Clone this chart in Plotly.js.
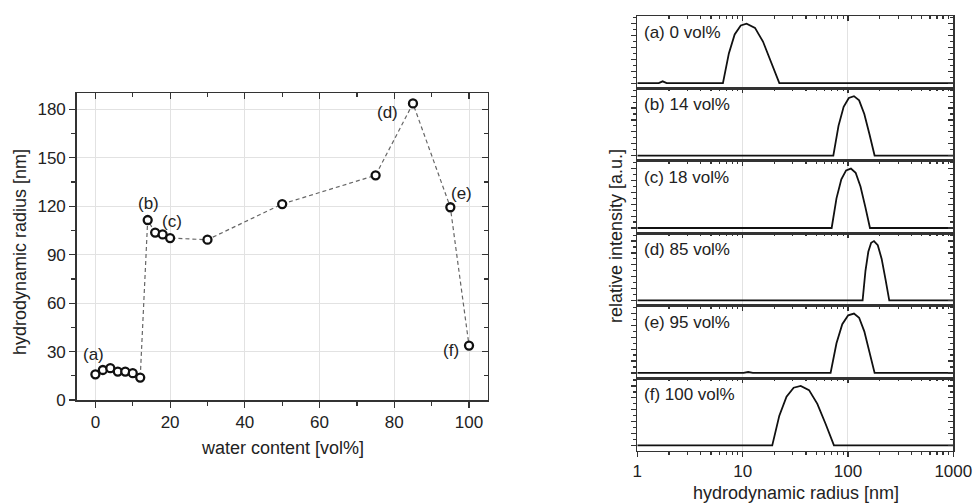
<!DOCTYPE html>
<html>
<head>
<meta charset="utf-8">
<script src="https://cdn.plot.ly/plotly-3.0.1.min.js"></script>
<style>html,body{margin:0;padding:0;background:#fff;}#chart{width:976px;height:503px;}</style>
</head>
<body>
<div id="chart"></div>
<script>
// ---- Left chart data ----
const waterContent = [0, 2, 4, 6, 8, 10, 12, 14, 16, 18, 20, 30, 50, 75, 85, 95, 100];
const hydroRadius = [15.9, 18.6, 19.7, 17.6, 17.6, 16.6, 13.9, 111.5, 103.7, 102.6, 100.3, 99.3, 121.4, 139.2, 183.7, 119.4, 33.7];
const pointLabels = ['(a)', '(b)', '(c)', '(d)', '(e)', '(f)'];
const pointLabelX = [-0.6, 14.2, 20.5, 78.1, 98.0, 95.1];
const pointLabelY = [28.3, 121.7, 110.7, 177.9, 127.9, 30.6];

// ---- Right chart data (size distributions) ----
const panelLabels = ['(a) 0 vol%', '(b) 14 vol%', '(c) 18 vol%', '(d) 85 vol%', '(e) 95 vol%', '(f) 100 vol%'];
const sizeA = [1, 1.6, 1.74, 1.9, 6.5, 7.4, 8.4, 9.6, 10.9, 13.1, 15.6, 18.7, 22.3, 1000];
const intA  = [0, 0, 0.03, 0, 0, 0.5, 0.82, 0.97, 1, 0.93, 0.7, 0.36, 0, 0];
const sizeB = [1, 72.6, 81.3, 91.0, 101.9, 114, 127.6, 142.9, 160, 179, 1000];
const intB  = [0, 0, 0.5, 0.82, 0.97, 1, 0.93, 0.7, 0.36, 0, 0];
const sizeC = [1, 70, 77.8, 86.5, 96, 106.7, 118.3, 131.5, 145.9, 161.8, 1000];
const intC  = [0, 0, 0.5, 0.82, 0.97, 1, 0.93, 0.7, 0.36, 0, 0];
const sizeD = [1, 137.7, 146.6, 156, 166, 176.6, 191.9, 208.9, 227, 246.6, 1000];
const intD  = [0, 0, 0.5, 0.82, 0.97, 1, 0.93, 0.7, 0.36, 0, 0];
const sizeE = [1, 10.2, 11.3, 12.5, 68.4, 77.8, 88.3, 100.5, 114, 127.6, 142.9, 160, 179, 1000];
const intE  = [0, 0, 0.015, 0, 0, 0.5, 0.82, 0.97, 1, 0.93, 0.7, 0.36, 0, 0];
const sizeF = [1, 19.1, 22.3, 26.1, 30.5, 35.6, 42.7, 51.2, 61.4, 73.6, 1000];
const intF  = [0, 0, 0.5, 0.82, 0.97, 1, 0.93, 0.7, 0.36, 0, 0];

const sizes = [sizeA, sizeB, sizeC, sizeD, sizeE, sizeF];
const intens = [intA, intB, intC, intD, intE, intF];

// ---- styling ----
const FONT = 'Arial, "Liberation Sans", Helvetica, sans-serif';
const TXT = '#222';
const AX = '#333';
const GRID = '#e2e2e2';
const W = 976, H = 503;
const px = v => v / W;
const py = v => (H - v) / H;

const traces = [];
const layout = {
  width: W, height: H,
  margin: {l: 0, r: 0, t: 0, b: 0},
  paper_bgcolor: '#fff', plot_bgcolor: 'rgba(0,0,0,0)',
  showlegend: false,
  font: {family: FONT, size: 17, color: TXT},
  annotations: []
};

// Left chart
const LX = [px(76.7), px(487.7)];
const LY = [py(400), py(93.3)];
traces.push({
  x: waterContent, y: hydroRadius, xaxis: 'x', yaxis: 'y',
  mode: 'lines+markers', type: 'scatter', hoverinfo: 'skip',
  line: {color: '#666', width: 1.2, dash: '4px,3px'},
  marker: {symbol: 'circle', size: 8, color: '#fff', line: {color: '#111', width: 2.3}}
});
traces.push({x: [], y: [], xaxis: 'x2', yaxis: 'y', type: 'scatter', hoverinfo: 'skip'});
traces.push({x: [], y: [], xaxis: 'x', yaxis: 'y2', type: 'scatter', hoverinfo: 'skip'});

layout.xaxis = {
  domain: LX, anchor: 'y', range: [-5, 105], dtick: 20, tick0: 0,
  ticks: 'outside', ticklen: 6, tickwidth: 1.2, tickcolor: AX,
  minor: {dtick: 10, ticks: 'outside', ticklen: 4, tickwidth: 1.2, tickcolor: AX, showgrid: false},
  showline: true, linecolor: AX, linewidth: 1.5, mirror: true,
  showgrid: true, gridcolor: GRID, gridwidth: 1, zeroline: false,
  tickfont: {size: 17, color: TXT, family: FONT}
};
layout.xaxis2 = {
  overlaying: 'x', side: 'top', anchor: 'y', range: [-5, 105], dtick: 20, tick0: 0,
  ticks: 'inside', ticklen: 6, tickwidth: 1.2, tickcolor: AX,
  minor: {dtick: 10, ticks: 'inside', ticklen: 4, tickwidth: 1.2, tickcolor: AX, showgrid: false},
  showticklabels: false, showgrid: false, zeroline: false, showline: false
};
layout.yaxis = {
  domain: LY, anchor: 'x', range: [0, 190], dtick: 30, tick0: 0,
  ticks: 'outside', ticklen: 6, tickwidth: 1.2, tickcolor: AX,
  minor: {dtick: 15, ticks: 'outside', ticklen: 4, tickwidth: 1.2, tickcolor: AX, showgrid: false},
  showline: true, linecolor: AX, linewidth: 1.5, mirror: true,
  showgrid: true, gridcolor: GRID, gridwidth: 1, zeroline: false,
  tickfont: {size: 17, color: TXT, family: FONT}
};
layout.yaxis2 = {
  overlaying: 'y', side: 'right', anchor: 'x', range: [0, 190], dtick: 30, tick0: 0,
  ticks: 'inside', ticklen: 6, tickwidth: 1.2, tickcolor: AX,
  minor: {dtick: 15, ticks: 'inside', ticklen: 4, tickwidth: 1.2, tickcolor: AX, showgrid: false},
  showticklabels: false, showgrid: false, zeroline: false, showline: false
};
pointLabels.forEach((t, i) => {
  layout.annotations.push({
    text: t, x: pointLabelX[i], y: pointLabelY[i], xref: 'x', yref: 'y',
    showarrow: false, font: {size: 17, color: TXT, family: FONT}, xanchor: 'center', yanchor: 'middle'
  });
});
layout.annotations.push({
  text: 'water content [vol%]', x: px(282), y: py(448), xref: 'paper', yref: 'paper',
  showarrow: false, font: {size: 18, color: TXT, family: FONT}, xanchor: 'center', yanchor: 'middle'
});
layout.annotations.push({
  text: 'hydrodynamic radius [nm]', x: px(20), y: py(252), xref: 'paper', yref: 'paper', textangle: -90,
  showarrow: false, font: {size: 18, color: TXT, family: FONT}, xanchor: 'center', yanchor: 'middle'
});

// Right chart: 6 stacked panels
const RX = [px(637.3), px(953.3)];
const topPx = 16, botPx = 450.7;
const hPx = (botPx - topPx) / 6;
const YR = [-0.09, 1.13];
for (let i = 0; i < 6; i++) {
  const xi = 3 + i, yi = 3 + i, yo = 9 + i;
  const xn = 'x' + xi, yn = 'y' + yi, yon = 'y' + yo;
  const pTop = topPx + i * hPx, pBot = pTop + hPx;
  traces.push({
    x: sizes[i], y: intens[i], xaxis: xn, yaxis: yn, type: 'scatter', mode: 'lines',
    hoverinfo: 'skip', line: {color: '#111', width: 1.8}
  });
  traces.push({x: [], y: [], xaxis: xn, yaxis: yon, type: 'scatter', hoverinfo: 'skip'});
  layout['xaxis' + xi] = {
    domain: RX, anchor: yn, type: 'log', range: [0, 3], dtick: 1, side: 'top',
    ticks: 'inside', ticklen: 5, tickwidth: 1.2, tickcolor: AX,
    minor: {dtick: 'D1', ticks: 'inside', ticklen: 3, tickwidth: 1.2, tickcolor: AX, showgrid: false},
    showticklabels: false, showline: true, linecolor: AX, linewidth: 1.5, mirror: true,
    showgrid: true, gridcolor: GRID, gridwidth: 1, zeroline: false
  };
  layout['yaxis' + yi] = {
    domain: [py(pBot), py(pTop)], anchor: xn, range: YR, dtick: 0.2, tick0: 0,
    ticks: 'outside', ticklen: 5, tickwidth: 1.2, tickcolor: AX,
    minor: {dtick: 0.1, ticks: 'outside', ticklen: 3, tickwidth: 1.2, tickcolor: AX, showgrid: false},
    showticklabels: false, showline: true, linecolor: AX, linewidth: 1.5, mirror: true,
    showgrid: false, zeroline: false
  };
  layout['yaxis' + yo] = {
    overlaying: yn, side: 'right', anchor: xn, range: YR, dtick: 0.2, tick0: 0,
    ticks: 'inside', ticklen: 5, tickwidth: 1.2, tickcolor: AX,
    minor: {dtick: 0.1, ticks: 'inside', ticklen: 3, tickwidth: 1.2, tickcolor: AX, showgrid: false},
    showticklabels: false, showline: false, showgrid: false, zeroline: false
  };
  layout.annotations.push({
    text: panelLabels[i], x: px(642), y: py(pTop + 16.5), xref: 'paper', yref: 'paper',
    showarrow: false, font: {size: 17, color: TXT, family: FONT}, xanchor: 'left', yanchor: 'middle'
  });
}
// bottom labelled axis for the last panel
traces.push({x: [], y: [], xaxis: 'x15', yaxis: 'y8', type: 'scatter', hoverinfo: 'skip'});
layout.xaxis15 = {
  overlaying: 'x8', anchor: 'y8', side: 'bottom', type: 'log', range: [0, 3], dtick: 1,
  ticks: 'outside', ticklen: 5, tickwidth: 1.2, tickcolor: AX,
  minor: {dtick: 'D1', ticks: 'outside', ticklen: 3, tickwidth: 1.2, tickcolor: AX, showgrid: false},
  showticklabels: true, tickfont: {size: 17, color: TXT, family: FONT},
  tickvals: [1, 10, 100, 1000], ticktext: ['1', '10', '100', '1000'],
  showline: false, showgrid: false, zeroline: false
};
layout.annotations.push({
  text: 'hydrodynamic radius [nm]', x: px(795.5), y: py(493), xref: 'paper', yref: 'paper',
  showarrow: false, font: {size: 18, color: TXT, family: FONT}, xanchor: 'center', yanchor: 'middle'
});
layout.annotations.push({
  text: 'relative intensity [a.u.]', x: px(616), y: py(236), xref: 'paper', yref: 'paper', textangle: -90,
  showarrow: false, font: {size: 18, color: TXT, family: FONT}, xanchor: 'center', yanchor: 'middle'
});

Plotly.newPlot('chart', traces, layout, {staticPlot: true, displayModeBar: false});
</script>
</body>
</html>
